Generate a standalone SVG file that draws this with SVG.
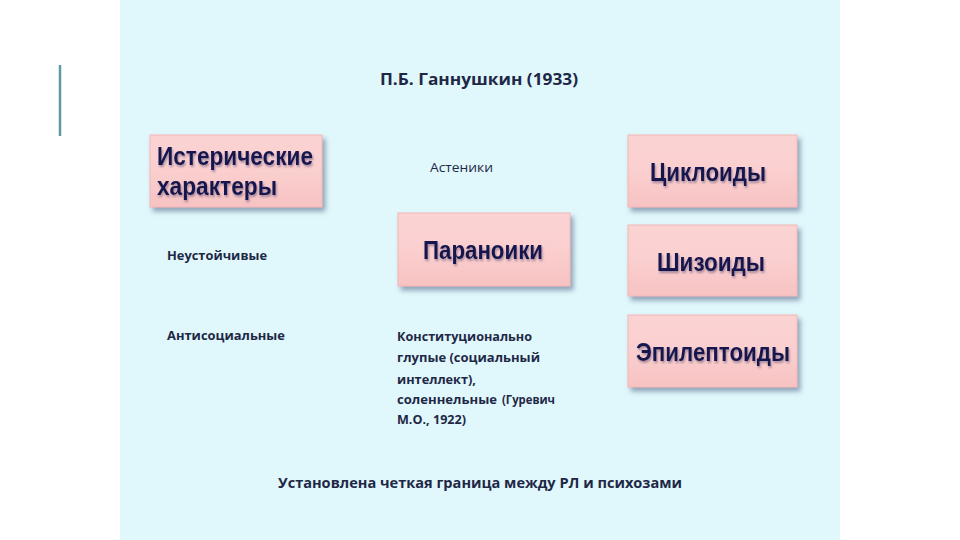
<svg xmlns="http://www.w3.org/2000/svg" width="960" height="540" viewBox="0 0 960 540">
<defs>
<linearGradient id="pink" x1="0" y1="0" x2="0" y2="1">
<stop offset="0" stop-color="#fbd3d3"/>
<stop offset="0.5" stop-color="#fbcfcf"/>
<stop offset="1" stop-color="#f7c2c2"/>
</linearGradient>
<filter id="sh" x="-10%" y="-10%" width="130%" height="140%">
<feGaussianBlur in="SourceAlpha" stdDeviation="2.5"/>
<feOffset dx="3" dy="4" result="b"/>
<feFlood flood-color="#7a8fa8" flood-opacity="0.8"/>
<feComposite in2="b" operator="in"/>
<feMerge><feMergeNode/><feMergeNode in="SourceGraphic"/></feMerge>
</filter>
<filter id="ts" x="-5%" y="-20%" width="110%" height="150%">
<feGaussianBlur in="SourceAlpha" stdDeviation="1.2"/>
<feOffset dx="1" dy="2" result="b"/>
<feFlood flood-color="#6a5a7a" flood-opacity="0.6"/>
<feComposite in2="b" operator="in"/>
<feMerge><feMergeNode/><feMergeNode in="SourceGraphic"/></feMerge>
</filter>
</defs>
<style>
.box{fill:url(#pink);stroke:#f4b8b8;stroke-width:1;filter:url(#sh)}
.big{font-family:"Liberation Sans",Arial,sans-serif;font-weight:bold;font-size:25px;fill:#161650;filter:url(#ts)}
.sm{font-family:"Open Sans","Liberation Sans",sans-serif;font-weight:700;font-size:12.5px;fill:#1e2846}
.title{font-family:"Open Sans","Liberation Sans",sans-serif;font-weight:700;font-size:16.5px;fill:#1e2846}
</style>
<rect x="0" y="0" width="960" height="540" fill="#ffffff"/>
<rect x="120" y="0" width="720" height="540" fill="#e0f7fb"/>
<line x1="60" y1="65" x2="60" y2="136" stroke="#5d9ba2" stroke-width="2.5"/>
<text class="title" x="380" y="85" textLength="198" lengthAdjust="spacingAndGlyphs">П.Б. Ганнушкин (1933)</text>
<g id="connectors"/>
<g id="hysteric">
<rect class="box" x="150" y="135" width="172" height="72"/>
<text class="big" x="157" y="165" textLength="156" lengthAdjust="spacingAndGlyphs">Истерические</text>
<text class="big" x="157" y="195" textLength="120" lengthAdjust="spacingAndGlyphs">характеры</text>
</g>
<g id="paranoid">
<rect class="box" x="398" y="213" width="172" height="73"/>
<text class="big" x="423" y="259" textLength="120" lengthAdjust="spacingAndGlyphs">Параноики</text>
</g>
<g id="cycloid">
<rect class="box" x="628" y="135" width="169" height="72"/>
<text class="big" x="650" y="181" textLength="116" lengthAdjust="spacingAndGlyphs">Циклоиды</text>
</g>
<g id="schizoid">
<rect class="box" x="628" y="225" width="169" height="71"/>
<text class="big" x="657" y="271" textLength="108" lengthAdjust="spacingAndGlyphs">Шизоиды</text>
</g>
<g id="epileptoid">
<rect class="box" x="628" y="315" width="169" height="72"/>
<text class="big" x="636" y="361" textLength="154" lengthAdjust="spacingAndGlyphs">Эпилептоиды</text>
</g>
<g id="asthenic"><text class="sm" x="430" y="172" style="font-weight:normal" textLength="63" lengthAdjust="spacingAndGlyphs">Астеники</text></g>
<g id="unstable"><text class="sm" x="167" y="260" textLength="100" lengthAdjust="spacingAndGlyphs">Неустойчивые</text></g>
<g id="antisocial"><text class="sm" x="167" y="340" textLength="118" lengthAdjust="spacingAndGlyphs">Антисоциальные</text></g>
<g id="const">
<text class="sm" x="397" y="341" textLength="135" lengthAdjust="spacingAndGlyphs">Конституционально</text>
<text class="sm" x="397" y="362" textLength="143" lengthAdjust="spacingAndGlyphs">глупые (социальный</text>
<text class="sm" x="397" y="384" textLength="79" lengthAdjust="spacingAndGlyphs">интеллект),</text>
<text class="sm" x="397" y="404" textLength="100" lengthAdjust="spacingAndGlyphs">соленнельные</text>
<text class="sm" x="502" y="404" font-size="11" textLength="53" lengthAdjust="spacingAndGlyphs">(Гуревич</text>
<text class="sm" x="397" y="424" font-size="11" textLength="69" lengthAdjust="spacingAndGlyphs">М.О., 1922)</text>
</g>
<g id="footer"><text class="title" x="278" y="488" style="font-size:15px" textLength="404" lengthAdjust="spacingAndGlyphs">Установлена четкая граница между РЛ и психозами</text></g>
</svg>
